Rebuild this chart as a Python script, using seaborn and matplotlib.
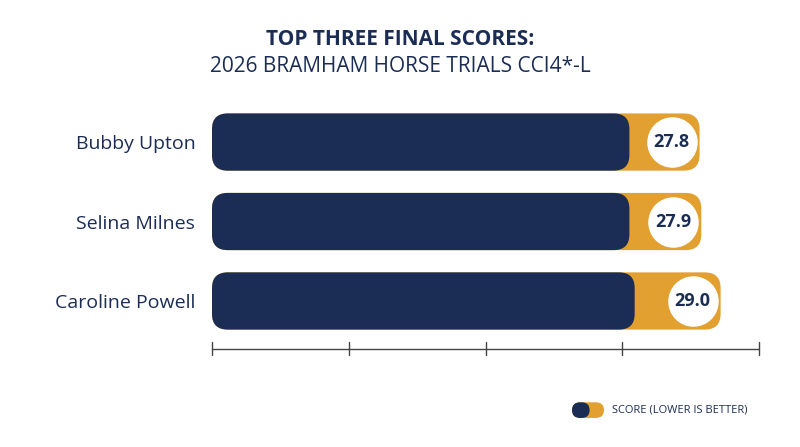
import matplotlib
matplotlib.use("Agg")
import matplotlib.pyplot as plt
import seaborn as sns
import pandas as pd
from matplotlib.patches import FancyBboxPatch

riders = ["Bubby Upton", "Selina Milnes", "Caroline Powell"]
scores = [27.8, 27.9, 29.0]
navy_part = [23.8, 23.8, 24.1]

NAVY = "#1b2d55"
ORANGE = "#e2a031"

sns.set_theme(style="white")
plt.rcParams['font.family'] = ['Open Sans', 'DejaVu Sans']

df = pd.DataFrame({"rider": riders, "score": scores, "navy": navy_part})

fig = plt.figure(figsize=(8, 4.47), dpi=100)
ax = fig.add_axes([0.265, 0.22, 0.684, 0.56])

sns.barplot(data=df, y="rider", x="score", color=ORANGE, width=0.72, ax=ax, saturation=1)
sns.barplot(data=df, y="rider", x="navy", color=NAVY, width=0.72, ax=ax, saturation=1)

xmax = 31.2
# round the bar ends
for p in list(ax.patches):
    x, y = p.get_x(), p.get_y()
    w, h = p.get_width(), p.get_height()
    fc = p.get_facecolor()
    p.remove()
    ax.add_patch(FancyBboxPatch((x, y), w, h, boxstyle="round,pad=0,rounding_size=0.9",
                                mutation_aspect=0.22, facecolor=fc, edgecolor="none"))

ax.set_xlim(0, xmax)
ax.set_ylim(2.6, -0.55)
for i, s in enumerate(scores):
    ax.scatter(s - 1.6, i, s=1250, color="white", zorder=5)
    ax.text(s - 1.6, i, f"{s:.1f}", ha="center", va="center", fontsize=13,
            fontweight="bold", color=NAVY, zorder=6)

ticks = [xmax * k / 4 for k in range(5)]
ax.set_xlabel("")
ax.set_ylabel("")
ax.set_xticks(ticks)
ax.set_xticklabels([])
ax.tick_params(axis="y", length=0, labelsize=14, labelcolor=NAVY, pad=12)
ax.tick_params(axis="x", length=0)
sns.despine(ax=ax, left=True, top=True, right=True, bottom=True)
ax.axhline(2.6, color="#444444", lw=1, clip_on=False)
for t in ticks:
    ax.plot([t, t], [2.52, 2.68], color="#444444", lw=1, clip_on=False)

fig.text(0.5, 0.9, "TOP THREE FINAL SCORES:", ha="center", fontsize=15,
         fontweight="bold", color=NAVY)
fig.text(0.5, 0.84, "2026 BRAMHAM HORSE TRIALS CCI4*-L", ha="center", fontsize=15,
         color=NAVY)

# legend pill
lax = fig.add_axes([0.715, 0.065, 0.04, 0.035])
lax.set_xlim(0, 2); lax.set_ylim(0, 1); lax.axis("off")
lax.add_patch(FancyBboxPatch((0, 0), 2, 1, boxstyle="round,pad=0,rounding_size=0.5",
                             facecolor=ORANGE, edgecolor="none"))
lax.add_patch(FancyBboxPatch((0, 0), 1.1, 1, boxstyle="round,pad=0,rounding_size=0.5",
                             facecolor=NAVY, edgecolor="none"))
fig.text(0.765, 0.082, "SCORE (LOWER IS BETTER)", fontsize=8, color=NAVY, va="center")

fig.savefig("out.png", dpi=100)
